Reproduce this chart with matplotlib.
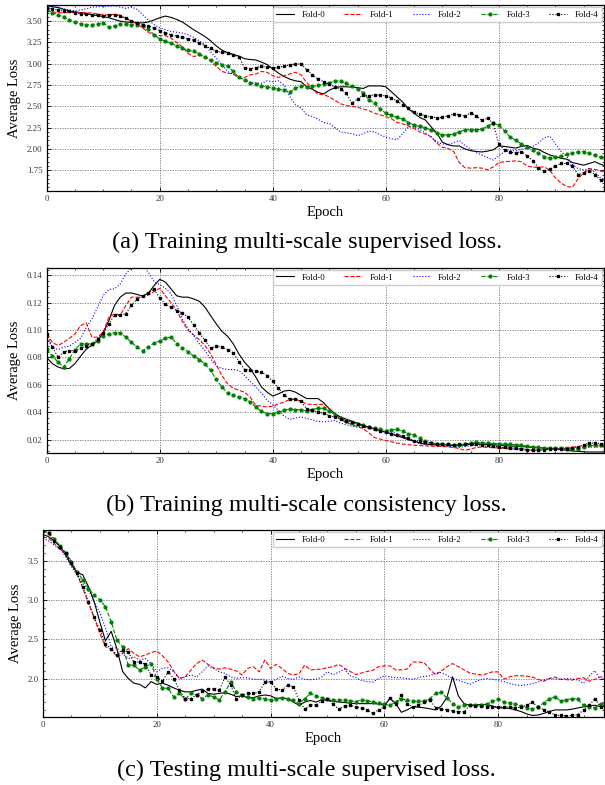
import numpy as np
import matplotlib.pyplot as plt
from matplotlib.ticker import MultipleLocator, AutoMinorLocator, FormatStrFormatter

plt.rcParams['font.family'] = ['Liberation Serif', 'DejaVu Serif']

epochs = np.arange(100)
fold_names = ['Fold-0', 'Fold-1', 'Fold-2', 'Fold-3', 'Fold-4']

# (a) training multi-scale supervised loss
sup_train = [
    [3.68, 3.67, 3.66, 3.64, 3.62, 3.61, 3.60, 3.59, 3.575, 3.565,
     3.555, 3.54, 3.52, 3.50, 3.49, 3.485, 3.48, 3.48, 3.49, 3.515,
     3.54, 3.56, 3.545, 3.52, 3.49, 3.445, 3.40, 3.36, 3.32, 3.27,
     3.21, 3.16, 3.13, 3.11, 3.09, 3.06, 3.05, 3.045, 3.02, 2.99,
     2.94, 2.89, 2.85, 2.82, 2.80, 2.79, 2.73, 2.70, 2.665, 2.646,
     2.69, 2.72, 2.73, 2.73, 2.725, 2.72, 2.71, 2.74, 2.74, 2.74,
     2.73, 2.67, 2.61, 2.55, 2.47, 2.42, 2.37, 2.34, 2.26, 2.19,
     2.08, 2.05, 2.035, 2.035, 2.00, 1.98, 1.97, 1.965, 1.975, 1.99,
     2.035, 2.03, 2.02, 2.01, 2.03, 2.04, 2.01, 1.995, 1.96, 1.93,
     1.91, 1.89, 1.88, 1.84, 1.825, 1.81, 1.83, 1.85, 1.82, 1.80],
    [3.62, 3.61, 3.60, 3.60, 3.605, 3.60, 3.60, 3.60, 3.595, 3.585,
     3.575, 3.575, 3.58, 3.57, 3.535, 3.50, 3.47, 3.42, 3.37, 3.335,
     3.33, 3.33, 3.30, 3.25, 3.20, 3.12, 3.085, 3.10, 3.08, 3.03,
     2.97, 2.91, 2.89, 2.88, 2.83, 2.84, 2.87, 2.88, 2.91, 2.90,
     2.86, 2.84, 2.86, 2.88, 2.90, 2.87, 2.78, 2.71, 2.64, 2.64,
     2.61, 2.57, 2.53, 2.51, 2.50, 2.49, 2.47, 2.45, 2.42, 2.40,
     2.38, 2.355, 2.31, 2.295, 2.27, 2.24, 2.20, 2.175, 2.145, 2.07,
     2.02, 2.005, 1.97, 1.84, 1.78, 1.775, 1.78, 1.775, 1.755, 1.79,
     1.84, 1.85, 1.855, 1.86, 1.85, 1.80, 1.785, 1.785, 1.79, 1.75,
     1.66, 1.60, 1.56, 1.55, 1.65, 1.72, 1.77, 1.76, 1.74, 1.72],
    [3.68, 3.67, 3.665, 3.645, 3.63, 3.625, 3.63, 3.645, 3.665, 3.67,
     3.67, 3.675, 3.68, 3.665, 3.65, 3.665, 3.64, 3.575, 3.51, 3.46,
     3.42, 3.40, 3.38, 3.37, 3.36, 3.34, 3.31, 3.27, 3.22, 3.14,
     3.065, 2.99, 2.91, 2.88, 2.85, 2.81, 2.78, 2.775, 2.77, 2.80,
     2.79, 2.80, 2.75, 2.615, 2.52, 2.48, 2.40, 2.38, 2.35, 2.31,
     2.30, 2.25, 2.20, 2.19, 2.18, 2.155, 2.18, 2.21, 2.20, 2.165,
     2.14, 2.12, 2.11, 2.18, 2.26, 2.26, 2.23, 2.19, 2.14, 2.085,
     2.06, 2.05, 2.075, 2.10, 2.04, 2.00, 1.955, 1.93, 1.90, 1.87,
     1.92, 1.97, 1.98, 1.98, 2.00, 2.01, 2.03, 2.07, 2.13, 2.15,
     2.06, 1.97, 1.91, 1.82, 1.77, 1.755, 1.77, 1.73, 1.66, 1.63],
    [3.63, 3.60, 3.575, 3.545, 3.515, 3.49, 3.47, 3.455, 3.46, 3.47,
     3.48, 3.43, 3.445, 3.47, 3.465, 3.46, 3.455, 3.445, 3.405, 3.34,
     3.29, 3.265, 3.24, 3.21, 3.18, 3.16, 3.145, 3.115, 3.085, 3.045,
     3.005, 2.99, 2.97, 2.91, 2.84, 2.81, 2.78, 2.76, 2.74, 2.73,
     2.715, 2.70, 2.69, 2.67, 2.71, 2.74, 2.73, 2.735, 2.745, 2.76,
     2.78, 2.795, 2.80, 2.77, 2.74, 2.70, 2.66, 2.58, 2.535, 2.47,
     2.42, 2.395, 2.37, 2.35, 2.31, 2.28, 2.265, 2.25, 2.22, 2.19,
     2.165, 2.165, 2.175, 2.20, 2.225, 2.225, 2.225, 2.23, 2.27, 2.30,
     2.28, 2.21, 2.14, 2.10, 2.06, 2.02, 1.99, 1.95, 1.91, 1.89,
     1.90, 1.92, 1.935, 1.955, 1.965, 1.97, 1.95, 1.925, 1.90, 1.86],
    [3.66, 3.645, 3.635, 3.625, 3.615, 3.60, 3.585, 3.58, 3.575, 3.57,
     3.565, 3.57, 3.575, 3.555, 3.535, 3.505, 3.475, 3.46, 3.445, 3.42,
     3.39, 3.365, 3.34, 3.325, 3.31, 3.29, 3.275, 3.245, 3.21, 3.18,
     3.145, 3.135, 3.125, 3.105, 3.085, 2.95, 2.94, 2.955, 2.97, 2.96,
     2.95, 2.96, 2.97, 2.99, 2.995, 3.00, 2.93, 2.87, 2.82, 2.79,
     2.76, 2.73, 2.70, 2.655, 2.535, 2.59, 2.63, 2.625, 2.635, 2.63,
     2.625, 2.60, 2.56, 2.52, 2.48, 2.43, 2.41, 2.39, 2.38, 2.365,
     2.37, 2.39, 2.41, 2.40, 2.385, 2.425, 2.39, 2.335, 2.36, 2.30,
     2.06, 1.99, 1.96, 1.955, 1.97, 1.92, 1.86, 1.78, 1.74, 1.76,
     1.80, 1.83, 1.83, 1.80, 1.70, 1.72, 1.745, 1.70, 1.635, 1.62],
]

# (b) training multi-scale consistency loss
cons_train = [
    [0.080, 0.0755, 0.073, 0.0717, 0.072, 0.0755, 0.081, 0.086, 0.089, 0.092,
     0.098, 0.107, 0.118, 0.124, 0.127, 0.127, 0.126, 0.1247, 0.127, 0.1325,
     0.137, 0.135, 0.130, 0.125, 0.124, 0.124, 0.1227, 0.121, 0.1167, 0.1105,
     0.1045, 0.099, 0.0955, 0.090, 0.0826, 0.0766, 0.072, 0.0656, 0.0584, 0.0547,
     0.0518, 0.0535, 0.0555, 0.056, 0.0547, 0.0523, 0.050, 0.050, 0.050, 0.047,
     0.0425, 0.039, 0.0365, 0.035, 0.0335, 0.032, 0.0305, 0.029, 0.028, 0.0265,
     0.0255, 0.024, 0.0228, 0.0215, 0.020, 0.019, 0.0175, 0.0168, 0.0165, 0.0163,
     0.0162, 0.016, 0.0158, 0.0158, 0.0162, 0.0167, 0.017, 0.0168, 0.0165, 0.0163,
     0.016, 0.0157, 0.0154, 0.0152, 0.015, 0.0147, 0.0144, 0.0141, 0.0138, 0.0135,
     0.0132, 0.0128, 0.0123, 0.0118, 0.0115, 0.0112, 0.011, 0.011, 0.011, 0.011],
    [0.097, 0.091, 0.0887, 0.091, 0.094, 0.0972, 0.1033, 0.1053, 0.0948, 0.0948,
     0.0985, 0.1094, 0.1118, 0.111, 0.1178, 0.124, 0.124, 0.124, 0.1257, 0.128,
     0.1305, 0.125, 0.120, 0.1142, 0.1062, 0.0997, 0.0965, 0.093, 0.0887, 0.0826,
     0.0746, 0.0668, 0.0608, 0.0576, 0.056, 0.0547, 0.0511, 0.045, 0.0445, 0.0438,
     0.0445, 0.0462, 0.0474, 0.0494, 0.0494, 0.048, 0.046, 0.0457, 0.0455, 0.046,
     0.043, 0.0385, 0.035, 0.0325, 0.031, 0.0295, 0.028, 0.025, 0.0215, 0.0205,
     0.0194, 0.0185, 0.0175, 0.0168, 0.0163, 0.016, 0.0157, 0.0155, 0.0153, 0.0152,
     0.015, 0.0147, 0.0143, 0.0135, 0.0122, 0.0132, 0.0143, 0.0146, 0.0144, 0.0141,
     0.0139, 0.0136, 0.0132, 0.0129, 0.0126, 0.0124, 0.0122, 0.0126, 0.0132, 0.0137,
     0.014, 0.0142, 0.0144, 0.0146, 0.015, 0.0154, 0.0158, 0.0156, 0.0154, 0.0153],
    [0.094, 0.0875, 0.0858, 0.0875, 0.0882, 0.0911, 0.094, 0.102, 0.108, 0.1167,
     0.1252, 0.1296, 0.130, 0.1337, 0.141, 0.1455, 0.147, 0.147, 0.142, 0.1354,
     0.133, 0.1305, 0.1264, 0.118, 0.108, 0.101, 0.096, 0.090, 0.085, 0.079,
     0.0736, 0.072, 0.0712, 0.0712, 0.0705, 0.0668, 0.0625, 0.0584, 0.0542, 0.0486,
     0.0455, 0.0413, 0.0372, 0.0348, 0.0357, 0.0365, 0.0355, 0.0345, 0.0333, 0.033,
     0.0335, 0.034, 0.032, 0.0309, 0.0298, 0.0292, 0.0292, 0.0285, 0.0267, 0.026,
     0.0255, 0.0255, 0.0245, 0.022, 0.0203, 0.0185, 0.017, 0.0165, 0.0162, 0.016,
     0.0156, 0.0152, 0.0148, 0.0146, 0.015, 0.0155, 0.0158, 0.0155, 0.015, 0.0147,
     0.0146, 0.0143, 0.014, 0.0136, 0.0132, 0.0128, 0.0125, 0.0122, 0.0125, 0.013,
     0.0134, 0.0136, 0.0138, 0.0139, 0.0141, 0.0143, 0.0146, 0.0146, 0.0146, 0.0146],
    [0.086, 0.081, 0.0766, 0.073, 0.079, 0.0858, 0.090, 0.090, 0.090, 0.092,
     0.0955, 0.0972, 0.098, 0.098, 0.0948, 0.091, 0.0875, 0.085, 0.0875, 0.0906,
     0.092, 0.094, 0.0948, 0.090, 0.0868, 0.0843, 0.081, 0.0785, 0.0753, 0.0705,
     0.064, 0.0584, 0.0542, 0.0523, 0.0511, 0.050, 0.0474, 0.0438, 0.0406, 0.039,
     0.039, 0.0401, 0.0413, 0.0425, 0.042, 0.0418, 0.0408, 0.042, 0.043, 0.0428,
     0.041, 0.038, 0.0355, 0.0333, 0.032, 0.0312, 0.0305, 0.0295, 0.0284, 0.0275,
     0.0267, 0.0272, 0.0275, 0.026, 0.0245, 0.0232, 0.021, 0.019, 0.0178, 0.0172,
     0.0168, 0.0165, 0.0164, 0.0163, 0.0168, 0.0175, 0.018, 0.0178, 0.0175, 0.0172,
     0.017, 0.0167, 0.0165, 0.0163, 0.016, 0.0152, 0.0146, 0.0143, 0.0141, 0.0139,
     0.0138, 0.0136, 0.0135, 0.0134, 0.0134, 0.0145, 0.0158, 0.016, 0.0162, 0.0163],
    [0.097, 0.0875, 0.0803, 0.084, 0.085, 0.085, 0.0868, 0.0887, 0.090, 0.0936,
     0.098, 0.1045, 0.111, 0.111, 0.1118, 0.118, 0.1227, 0.125, 0.127, 0.130,
     0.1232, 0.119, 0.1167, 0.1142, 0.1125, 0.1094, 0.1038, 0.098, 0.0924, 0.0868,
     0.0882, 0.0875, 0.0858, 0.0834, 0.077, 0.0712, 0.0712, 0.0698, 0.0693, 0.0668,
     0.0625, 0.0576, 0.0528, 0.0494, 0.050, 0.048, 0.0425, 0.0413, 0.0401, 0.0392,
     0.0375, 0.0365, 0.0353, 0.0338, 0.033, 0.0315, 0.030, 0.029, 0.0278, 0.0265,
     0.0255, 0.0242, 0.0235, 0.0225, 0.021, 0.0194, 0.0188, 0.0182, 0.0177, 0.0172,
     0.0168, 0.0165, 0.0163, 0.0165, 0.0168, 0.017, 0.0167, 0.0164, 0.0162, 0.0155,
     0.0146, 0.0143, 0.0141, 0.0139, 0.0135, 0.0128, 0.0122, 0.0124, 0.0127, 0.0129,
     0.0131, 0.0133, 0.0134, 0.0142, 0.0148, 0.0163, 0.0177, 0.0175, 0.017, 0.017],
]

# (c) testing multi-scale supervised loss
sup_test = [
    [3.835, 3.805, 3.75, 3.68, 3.57, 3.445, 3.35, 3.32, 3.17, 2.98,
     2.72, 2.48, 2.60, 2.38, 2.09, 2.00, 1.94, 1.925, 1.88, 1.96,
     1.925, 1.94, 1.915, 1.88, 1.85, 1.83, 1.83, 1.85, 1.865, 1.81,
     1.80, 1.81, 1.82, 1.80, 1.77, 1.78, 1.755, 1.755, 1.78, 1.79,
     1.78, 1.745, 1.755, 1.745, 1.70, 1.66, 1.70, 1.72, 1.70, 1.73,
     1.725, 1.71, 1.70, 1.695, 1.685, 1.68, 1.68, 1.68, 1.68, 1.675,
     1.66, 1.745, 1.68, 1.57, 1.60, 1.64, 1.635, 1.627, 1.615, 1.60,
     1.65, 1.76, 2.02, 1.78, 1.68, 1.66, 1.665, 1.67, 1.67, 1.65,
     1.627, 1.625, 1.62, 1.60, 1.58, 1.55, 1.53, 1.535, 1.555, 1.58,
     1.60, 1.60, 1.60, 1.61, 1.625, 1.64, 1.65, 1.66, 1.64, 1.65],
    [3.805, 3.785, 3.72, 3.635, 3.615, 3.49, 3.325, 3.15, 2.955, 2.775,
     2.575, 2.405, 2.375, 2.275, 2.32, 2.38, 2.32, 2.275, 2.30, 2.33,
     2.35, 2.29, 2.21, 2.095, 2.00, 2.02, 2.105, 2.19, 2.235, 2.18,
     2.135, 2.12, 2.135, 2.12, 2.095, 2.045, 2.13, 2.15, 2.085, 2.235,
     2.13, 2.18, 2.13, 2.065, 2.045, 2.06, 2.17, 2.11, 2.115, 2.12,
     2.14, 2.15, 2.18, 2.13, 2.09, 2.05, 2.07, 2.09, 2.105, 2.15,
     2.16, 2.16, 2.11, 2.11, 2.12, 2.21, 2.21, 2.20, 2.12, 2.045,
     2.095, 2.15, 2.19, 2.15, 2.11, 2.07, 2.055, 2.045, 2.06, 2.085,
     2.085, 1.99, 2.02, 2.035, 2.035, 2.03, 2.02, 1.99, 1.965, 2.00,
     2.02, 1.99, 1.985, 1.98, 2.00, 2.01, 1.965, 1.99, 2.02, 2.01],
    [3.785, 3.75, 3.70, 3.65, 3.55, 3.425, 3.32, 3.21, 3.125, 2.975,
     2.84, 2.64, 2.405, 2.385, 2.32, 2.255, 2.275, 2.235, 2.255, 2.19,
     2.085, 2.13, 2.135, 2.085, 2.00, 2.02, 2.045, 2.02, 2.085, 2.16,
     2.13, 2.085, 2.065, 2.02, 2.00, 2.01, 2.01, 1.99, 1.99, 1.98,
     1.955, 1.99, 2.03, 2.00, 1.99, 2.02, 1.99, 1.985, 1.99, 2.02,
     2.085, 2.05, 2.08, 2.12, 2.035, 2.01, 1.975, 1.96, 1.955, 2.00,
     2.035, 2.02, 2.01, 2.01, 2.00, 1.99, 2.01, 2.025, 2.035, 2.07,
     2.075, 2.04, 2.00, 1.975, 1.955, 1.925, 1.96, 1.985, 2.00, 1.99,
     1.98, 1.96, 1.935, 1.92, 1.91, 1.92, 1.935, 1.955, 1.98, 2.00,
     1.995, 1.99, 2.00, 1.995, 1.98, 1.94, 2.03, 2.10, 1.98, 2.02],
    [3.88, 3.85, 3.775, 3.69, 3.595, 3.485, 3.36, 3.255, 3.145, 3.06,
     3.00, 2.915, 2.72, 2.49, 2.405, 2.17, 2.17, 2.105, 2.15, 2.19,
     2.00, 1.88, 1.873, 1.767, 1.81, 1.737, 1.81, 1.79, 1.745, 1.79,
     1.767, 1.725, 1.83, 1.955, 1.83, 1.79, 1.767, 1.737, 1.755, 1.745,
     1.725, 1.745, 1.755, 1.737, 1.725, 1.68, 1.745, 1.81, 1.775, 1.755,
     1.745, 1.73, 1.725, 1.725, 1.72, 1.705, 1.73, 1.72, 1.70, 1.69,
     1.67, 1.66, 1.70, 1.735, 1.725, 1.71, 1.71, 1.71, 1.745, 1.81,
     1.822, 1.75, 1.68, 1.64, 1.66, 1.66, 1.66, 1.66, 1.67, 1.71,
     1.737, 1.70, 1.69, 1.68, 1.65, 1.627, 1.61, 1.64, 1.69, 1.74,
     1.767, 1.71, 1.73, 1.745, 1.737, 1.66, 1.64, 1.627, 1.68, 1.69],
    [3.89, 3.85, 3.75, 3.68, 3.595, 3.465, 3.34, 3.17, 2.98, 2.785,
     2.615, 2.445, 2.375, 2.30, 2.36, 2.34, 2.205, 2.21, 2.18, 2.045,
     2.02, 1.965, 2.085, 2.00, 1.85, 1.745, 1.745, 1.79, 1.84, 1.865,
     1.865, 1.85, 2.02, 1.915, 1.737, 1.79, 1.81, 1.81, 1.83, 1.955,
     1.955, 1.87, 1.85, 1.915, 1.895, 1.725, 1.61, 1.665, 1.66, 1.71,
     1.737, 1.67, 1.61, 1.65, 1.66, 1.64, 1.62, 1.60, 1.555, 1.60,
     1.64, 1.755, 1.67, 1.79, 1.68, 1.635, 1.66, 1.695, 1.725, 1.63,
     1.61, 1.60, 1.585, 1.58, 1.575, 1.66, 1.65, 1.645, 1.64, 1.64,
     1.64, 1.64, 1.635, 1.627, 1.635, 1.66, 1.695, 1.64, 1.60, 1.575,
     1.535, 1.53, 1.525, 1.53, 1.54, 1.60, 1.66, 1.745, 1.64, 1.66],
]

styles = [
    dict(color='black', ls='-'),
    dict(color='red', ls='--'),
    dict(color='blue', ls=':'),
    dict(color='green', ls='--', marker='o', ms=2.0),
    dict(color='black', ls=':', marker='s', ms=2.0),
]

W, H = 605, 785
fig = plt.figure(figsize=(W / 100, H / 100), dpi=100)


def panel(left, top, bottom, series, ylim, ystep, yfmt, caption, cap_y):
    ax = fig.add_axes([left / W, 1 - bottom / H, (604 - left) / W, (bottom - top) / H])
    for name, vals, st in zip(fold_names, series, styles):
        ax.plot(epochs, vals, lw=0.8, label=name, **st)
    ax.set_xlim(0, 98.6)
    ax.set_ylim(*ylim)
    ax.xaxis.set_major_locator(MultipleLocator(20))
    ax.xaxis.set_minor_locator(MultipleLocator(5))
    ax.yaxis.set_major_locator(MultipleLocator(ystep))
    ax.yaxis.set_minor_locator(AutoMinorLocator(5))
    ax.yaxis.set_major_formatter(FormatStrFormatter(yfmt))
    ax.tick_params(which='both', direction='in', top=True, right=True,
                   labelsize=6.3, colors='black', labelcolor='#333333', pad=3)
    ax.tick_params(which='major', length=3, width=0.6)
    ax.tick_params(which='minor', length=1.5, width=0.5)
    for sp in ax.spines.values():
        sp.set_linewidth(0.9)
    ax.grid(True, which='major', color='0.45', ls=(0, (1.5, 1.5)), lw=0.6)
    ax.set_xlabel('Epoch', fontsize=10.5, labelpad=2)
    ax.set_ylabel('Average Loss', fontsize=10.5, labelpad=4)
    ax.legend(ncol=5, loc='upper right', fontsize=6.3, handlelength=2.0,
              handletextpad=0.9, columnspacing=2.2, borderaxespad=0.25,
              fancybox=True, edgecolor='0.8', framealpha=1.0)
    fig.text(0.507, 1 - cap_y / H, caption, ha='center', va='center', fontsize=17.5)
    return ax


panel(46.7, 5, 190.7, sup_train, (1.51, 3.69), 0.25, '%.2f',
      '(a) Training multi-scale supervised loss.', 242.7)
panel(46.7, 267.7, 452.7, cons_train, (0.0105, 0.1455), 0.02, '%.2f',
      '(b) Training multi-scale consistency loss.', 505)
panel(42.9, 530, 717, sup_test, (1.51, 3.89), 0.5, '%.1f',
      '(c) Testing multi-scale supervised loss.', 770)

fig.savefig('out.png', dpi=100)
